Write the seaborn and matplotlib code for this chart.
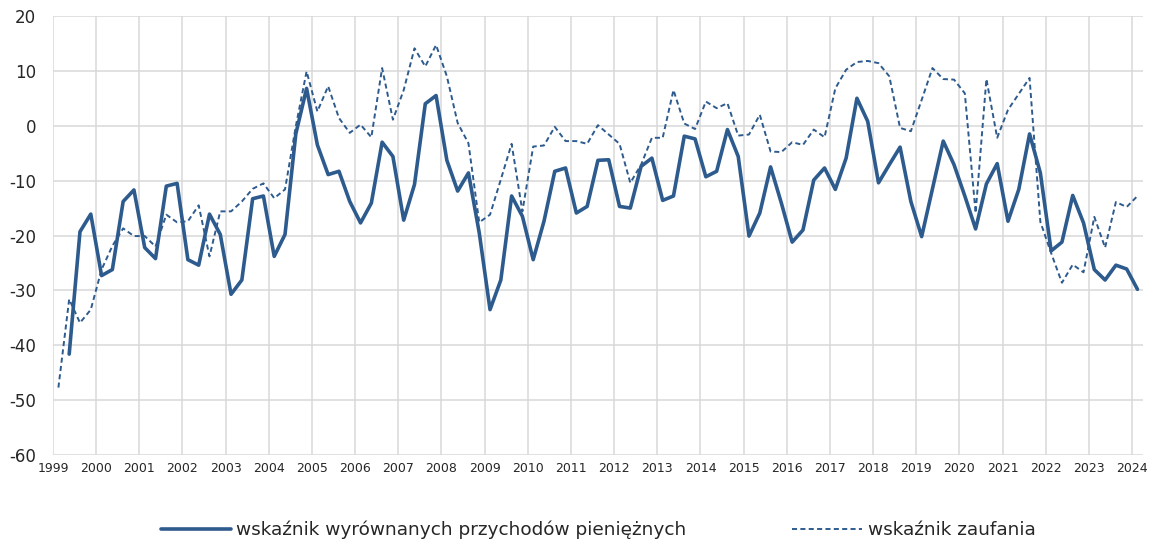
import matplotlib
matplotlib.use('Agg')

import matplotlib.pyplot as plt
import seaborn as sns
import pandas as pd
import numpy as np

# kwartalne dane 1999Q1 - 2024Q1
start_year = 1999
years = list(range(1999, 2025))

wskaznik_zaufania = [
    -47.7, -31.6, -35.9, -33.5,
    -26.2, -21.9, -18.7, -20.1,
    -20.1, -22.0, -16.2, -17.6,
    -17.4, -14.5, -23.8, -15.6,
    -15.6, -13.8, -11.5, -10.5,
    -13.2, -11.6, -0.1, 9.9,
    2.6, 7.2, 1.4, -1.3,
    0.2, -2.1, 10.5, 1.1,
    6.5, 14.1, 10.8, 14.7,
    9.0, 0.5, -3.2, -17.6,
    -16.2, -9.8, -3.3, -15.6,
    -3.8, -3.6, -0.2, -2.8,
    -2.8, -3.3, 0.1, -1.6,
    -3.3, -10.4, -7.1, -2.2,
    -2.2, 6.5, 0.4, -0.6,
    4.4, 3.2, 4.1, -1.8,
    -1.6, 2.0, -4.7, -4.8,
    -3.0, -3.5, -0.7, -2.1,
    6.8, 10.2, 11.6, 11.8,
    11.4, 9.0, -0.4, -1.0,
    4.7, 10.5, 8.5, 8.4,
    5.9, -15.9, 8.5, -2.2,
    2.9, 5.8, 8.7, -17.5,
    -23.2, -28.6, -25.3, -26.7,
    -16.6, -22.2, -13.9, -14.8,
    -12.8,
]

# seria zaczyna się w 1999Q2
wskaznik_przychodow = [
    np.nan, -41.6, -19.3, -16.1,
    -27.3, -26.2, -13.8, -11.7,
    -22.2, -24.2, -11.0, -10.5,
    -24.4, -25.4, -16.1, -19.8,
    -30.7, -28.1, -13.3, -12.8,
    -23.8, -19.8, -1.5, 6.8,
    -3.5, -8.9, -8.3, -13.8,
    -17.7, -14.1, -3.0, -5.6,
    -17.2, -10.7, 4.0, 5.5,
    -6.3, -11.9, -8.6, -19.5,
    -33.5, -28.1, -12.8, -16.5,
    -24.4, -17.4, -8.3, -7.7,
    -15.9, -14.7, -6.3, -6.2,
    -14.7, -15.0, -7.4, -5.9,
    -13.6, -12.8, -1.9, -2.4,
    -9.3, -8.3, -0.7, -5.6,
    -20.1, -15.9, -7.5, -14.1,
    -21.2, -19.0, -9.9, -7.7,
    -11.6, -5.9, 5.0, 0.8,
    -10.4, -7.1, -3.9, -13.8,
    -20.2, -11.5, -2.8, -7.1,
    -12.8, -18.8, -10.6, -6.9,
    -17.4, -11.6, -1.5, -8.6,
    -22.8, -21.2, -12.7, -17.7,
    -26.2, -28.1, -25.4, -26.1,
    -29.8,
]

label_1 = 'wskaźnik wyrównanych przychodów pieniężnych'
label_2 = 'wskaźnik zaufania'

n = len(wskaznik_zaufania)
t = start_year + (np.arange(n) + 0.5) / 4
df = pd.DataFrame({'t': t, 'przych': wskaznik_przychodow, 'zauf': wskaznik_zaufania})

sns.set_style('white')
plt.rcParams['font.family'] = ['DejaVu Sans']
plt.rcParams['axes.unicode_minus'] = False

color = '#2E5B8E'
fig = plt.figure(figsize=(11.65, 5.49), dpi=100)
ax = fig.add_axes([0.0455, 0.171, 0.9355, 0.800])

sns.lineplot(data=df, x='t', y='przych', ax=ax, color=color, linewidth=2.6, label=label_1)
sns.lineplot(data=df, x='t', y='zauf', ax=ax, color=color, linewidth=1.4,
             dashes=False, label=label_2)
ax.lines[1].set_dashes((2.6, 1.7))

ax.set_xlim(1999, 2024.25)
ax.set_ylim(-60, 20)
ax.set_xticks(years)
ax.set_xticklabels([str(y) for y in years], fontsize=9)
ax.set_yticks(range(-60, 21, 10))
ax.tick_params(axis='y', labelsize=12, pad=12, length=0)
ax.tick_params(axis='x', pad=5, length=0)
ax.grid(True, color='#D9D9D9', linewidth=1.1)
ax.set_axisbelow(True)
for s in ax.spines.values():
    s.set_visible(False)
ax.set_xlabel('')
ax.set_ylabel('')

leg = ax.legend(loc='center', bbox_to_anchor=(0.5, -0.171), ncol=2, frameon=False,
                fontsize=13.3, handlelength=3.8, handletextpad=0.3, columnspacing=5.7)
leg.get_lines()[1].set_dashes((2.6, 1.7))

fig.savefig('out.png', dpi=100)
